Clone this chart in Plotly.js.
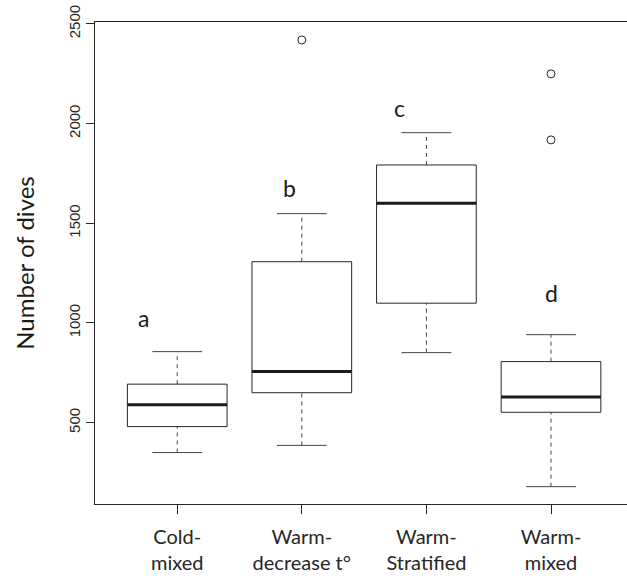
<!DOCTYPE html>
<html>
<head>
<meta charset="utf-8">
<script src="https://cdn.plot.ly/plotly-3.0.1.min.js"></script>
<style>html,body{margin:0;padding:0;background:#fff;}#chart{width:627px;height:576px;}</style>
</head>
<body>
<div id="chart"></div>
<script>
// ---- data ----
const categories = ["Cold-<br>mixed", "Warm-<br>decrease t°", "Warm-<br>Stratified", "Warm-<br>mixed"];
const lowerWhisker = [350, 386, 851, 179];
const q1 = [480, 650, 1099, 552];
const median = [590, 756, 1600, 629];
const q3 = [693, 1307, 1792, 806];
const upperWhisker = [856, 1548, 1954, 941];
const outlierGroup = [2, 4, 4];
const outlierValue = [2419, 2249, 1918];
const letters = ["a", "b", "c", "d"];
const letterX = [0.73, 1.9, 2.78, 4.0];
const letterY = [1025, 1675, 2080, 1150];

// ---- style ----
const boxHalf = 0.4, capHalf = 0.2;
const lineCol = "#262626";

const boxX = [], boxY = [], medX = [], medY = [], whX = [], whY = [], capX = [], capY = [];
for (let i = 0; i < categories.length; i++) {
  const c = i + 1;
  boxX.push(c - boxHalf, c + boxHalf, c + boxHalf, c - boxHalf, c - boxHalf, null);
  boxY.push(q1[i], q1[i], q3[i], q3[i], q1[i], null);
  medX.push(c - boxHalf, c + boxHalf, null);
  medY.push(median[i], median[i], null);
  whX.push(c, c, null, c, c, null);
  whY.push(lowerWhisker[i], q1[i], null, q3[i], upperWhisker[i], null);
  capX.push(c - capHalf, c + capHalf, null, c - capHalf, c + capHalf, null);
  capY.push(lowerWhisker[i], lowerWhisker[i], null, upperWhisker[i], upperWhisker[i], null);
}

const traces = [
  {x: whX, y: whY, mode: "lines", line: {color: "#444", width: 1, dash: "4px,4px"}, hoverinfo: "skip"},
  {x: capX, y: capY, mode: "lines", line: {color: "#444", width: 1}, hoverinfo: "skip"},
  {x: boxX, y: boxY, mode: "lines", line: {color: lineCol, width: 1}, hoverinfo: "skip"},
  {x: medX, y: medY, mode: "lines", line: {color: "#1a1a1a", width: 3}, hoverinfo: "skip"},
  {x: outlierGroup, y: outlierValue, mode: "markers",
   marker: {symbol: "circle-open", size: 8, color: lineCol, line: {width: 1, color: lineCol}}, hoverinfo: "skip"}
];

const annotations = letters.map((t, i) => ({
  x: letterX[i], y: letterY[i], xref: "x", yref: "y", text: t, showarrow: false,
  font: {family: "Lato, 'Open Sans', sans-serif", size: 23, color: "#1a1a1a"}
}));

const layout = {
  width: 627, height: 576,
  margin: {l: 95, r: 0, t: 22, b: 72},
  paper_bgcolor: "#fff", plot_bgcolor: "#fff",
  showlegend: false,
  xaxis: {
    range: [0.34, 4.61], tickvals: [1, 2, 3, 4], ticktext: categories,
    showline: true, mirror: true, linecolor: lineCol, linewidth: 1,
    ticks: "outside", ticklen: 9, tickcolor: lineCol, showgrid: false, zeroline: false,
    ticklabelstandoff: 6,
    tickfont: {family: "Lato, 'Open Sans', sans-serif", size: 20, color: "#262626"},
    fixedrange: true
  },
  yaxis: {
    range: [92, 2509], tickvals: [500, 1000, 1500, 2000, 2500],
    showline: true, linecolor: lineCol, linewidth: 1,
    ticks: "outside", ticklen: 8, tickcolor: lineCol, showgrid: false, zeroline: false,
    tickangle: -90,
    tickfont: {family: "'Liberation Sans', Arial, sans-serif", size: 15, color: "#262626"},
    title: {text: "Number of dives", font: {family: "Lato, 'Open Sans', sans-serif", size: 24, color: "#1a1a1a"}, standoff: 24},
    fixedrange: true
  },
  annotations: annotations
};

Plotly.newPlot("chart", traces, layout, {displayModeBar: false, staticPlot: true});
</script>
</body>
</html>
